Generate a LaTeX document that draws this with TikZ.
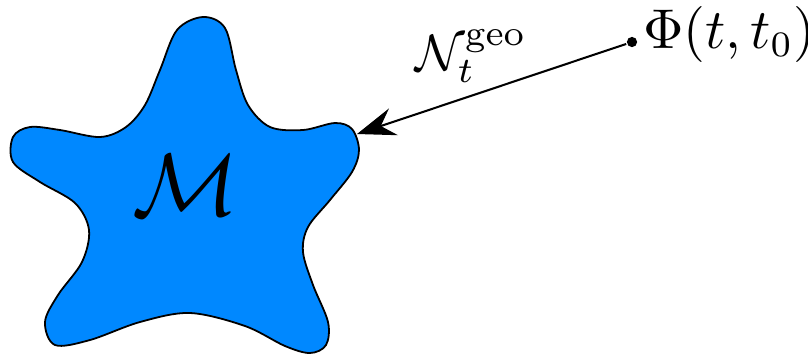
\documentclass[tikz,border=0pt]{standalone}
\usepackage{amsmath}
\usepackage{xcolor}
\usetikzlibrary{arrows.meta}
\definecolor{manblue}{RGB}{0,136,255}

\begin{document}
\begin{tikzpicture}[x=0.00686cm, y=-0.00686cm,
  manifold/.style={fill=manblue, draw=black, line width=0.35pt},
  srcdot/.style={circle, fill=black, inner sep=0pt, minimum size=2pt},
  flowarrow/.style={-{Stealth[length=7.5pt, width=5.5pt, inset=2.6pt]}, line width=0.4pt}]
 \useasboundingbox (0,0) rectangle (808,356);
 %star shaped manifold:
 \draw[manifold] plot[smooth cycle, tension=0.55] coordinates {
   (203,17) (225,28) (236,70) (248,105) (270,127) (303,130) (335,123) (352,129)
   (359,150) (352,172) (330,200) (308,227) (303,252) (313,285) (328,322) (326,345)
   (310,353) (285,346) (245,326) (190,313) (140,322) (90,340) (55,345) (45,322)
   (58,295) (82,262) (89,230) (75,203) (40,182) (13,162) (13,137) (30,127) (60,130)
   (100,137) (126,127) (145,105) (160,70) (177,30)};
 \node[font=\fontsize{18.5}{22}\selectfont] (man) at (186,185) {$\mathcal{M}$};

 %initial point and geodesic:
 \node[srcdot] (src) at (632,42) {};
 \node[anchor=base west, inner sep=0pt, font=\fontsize{10.6}{13}\selectfont] (phi) at (642,48) {$\Phi(t,t_0)$};
 \coordinate (tip) at (357,134);
 \draw[flowarrow] (src) -- (tip) node[midway, above, inner sep=1pt, xshift=-0.14cm, font=\fontsize{9.6}{12}\selectfont] (geo) {$\mathcal{N}_t^{\mathrm{geo}}$};
\end{tikzpicture}
\end{document}
